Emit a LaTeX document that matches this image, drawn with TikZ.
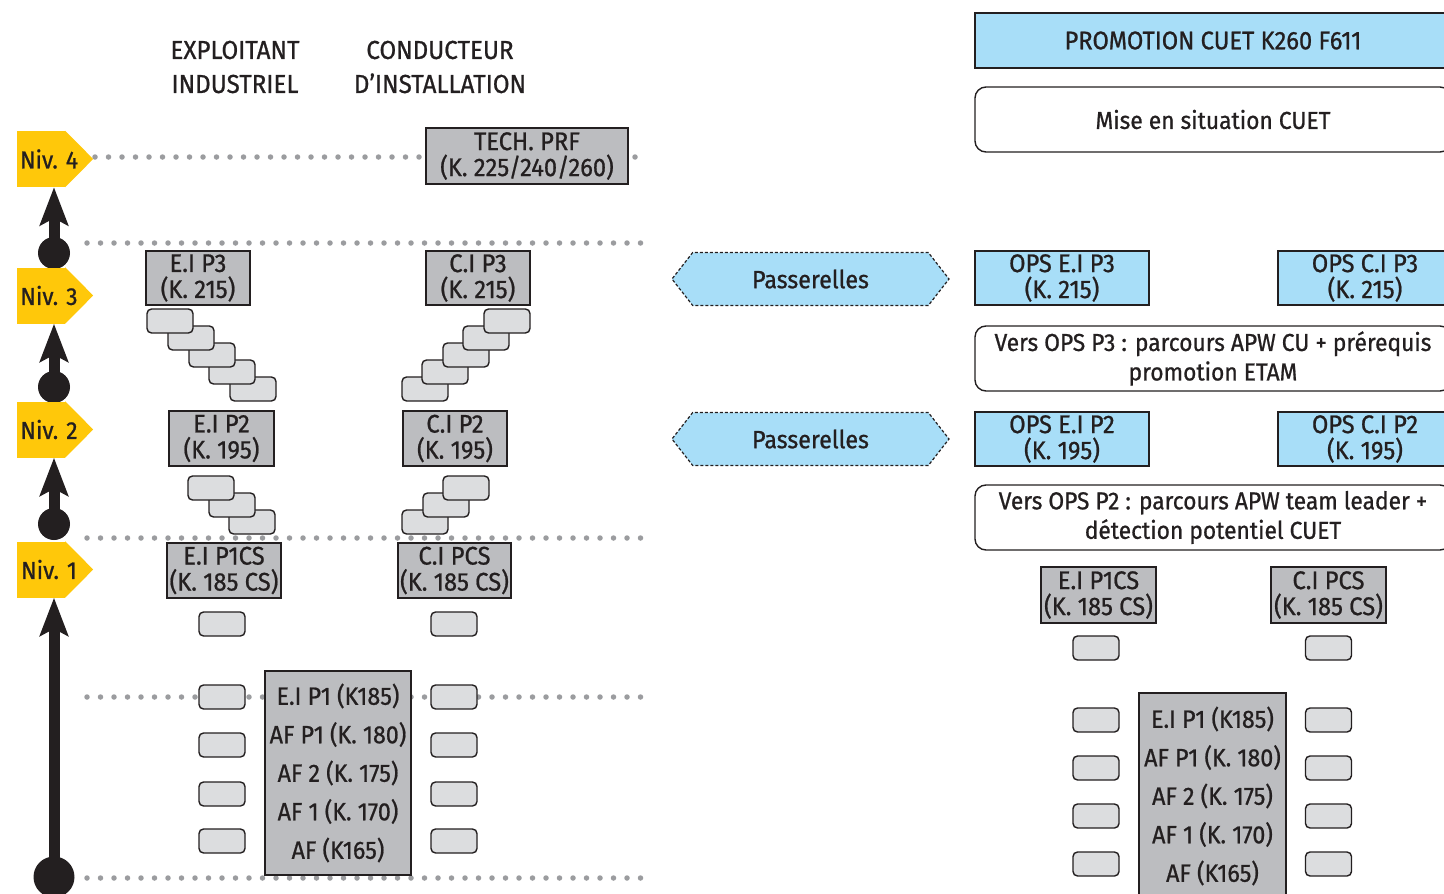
\documentclass[tikz,border=0pt]{standalone}
\usepackage{fontspec}
\setmainfont{Fira Sans}[FakeStretch=0.93,FakeBold=0.8]
\usetikzlibrary{arrows.meta,shapes.symbols,calc}
\definecolor{ink}{HTML}{231F20}
\definecolor{boxgray}{HTML}{BCBDC0}
\definecolor{lgray}{HTML}{DCDDDF}
\definecolor{dotgray}{HTML}{9B9C9F}
\definecolor{lblue}{HTML}{A8DEF8}
\definecolor{nivyel}{HTML}{FFC80A}
\newcommand\boxfont{\fontsize{25.5}{26}\selectfont}
\newcommand\hdrfont{\fontsize{26}{34}\selectfont}
\newcommand\nivfont{\fontsize{24.5}{28}\selectfont}
\newcommand\bigfont{\fontsize{25}{38.5}\selectfont}
\newcommand\widefont{\fontsize{24.5}{29.5}\selectfont}
\newcommand\passfont{\fontsize{25}{26}\selectfont}
\tikzset{
  gbox/.style={draw=ink, line width=1.4pt, fill=boxgray, inner sep=0pt, align=center, font=\boxfont, text=ink},
  bbox/.style={draw=ink, line width=1.4pt, fill=lblue, inner sep=0pt, align=center, font=\boxfont, text=ink},
  wbox/.style={draw=ink, line width=1.4pt, fill=white, rounded corners=11pt, inner sep=0pt, align=center, font=\widefont, text=ink},
  sbox/.style={draw=ink, line width=1.4pt, fill=lgray, rounded corners=4.5pt, minimum width=46pt, minimum height=24pt, inner sep=0pt},
  dots/.style={draw=dotgray, line width=5.5pt, line cap=round, dash pattern=on 0pt off 13.5pt},
  tag/.style={rectangle, fill=nivyel, draw=none, minimum width=48pt, minimum height=56pt, inner sep=0pt},
  tagtxt/.style={font=\nivfont, text=ink, inner sep=0pt},
  ball/.style={circle, fill=ink, draw=none, inner sep=0pt},
  arr/.style={draw=ink, line width=11pt, -{Stealth[length=38pt,width=28pt,inset=7pt]}},
  pass/.style={signal, signal to=east and west, signal pointer angle=104, fill=lblue, draw=ink, line width=1.2pt, dash pattern=on 3pt off 2pt, minimum width=277pt, minimum height=53pt, inner sep=0pt, font=\passfont, text=ink},
  hdr/.style={align=center, font=\hdrfont, text=ink, inner sep=0pt}
}
\begin{document}
\begin{tikzpicture}[x=1pt,y=-1pt]
\clip (0,0) rectangle (1444,894);
% dotted level lines
\coordinate (d4a) at (95,157);  \coordinate (d4b) at (648,157);
\coordinate (d3a) at (87,243);  \coordinate (d3b) at (648,243);
\coordinate (d2a) at (87,538);  \coordinate (d2b) at (648,538);
\coordinate (d1a) at (87,697);  \coordinate (d1b) at (648,697);
\coordinate (d0a) at (87,878);  \coordinate (d0b) at (648,878);
\foreach \a/\b in {d4a/d4b,d3a/d3b,d2a/d2b,d1a/d1b,d0a/d0b}{\draw[dots] (\a) -- (\b);}
% headers
\node[hdr] (hei) at (235,67) {EXPLOITANT\\INDUSTRIEL};
\node[hdr] (hci) at (440,67) {CONDUCTEUR\\D’INSTALLATION};
% level axis
\node[ball, minimum size=32pt] (c4) at (54,253) {};
\node[ball, minimum size=32pt] (c3) at (54,387) {};
\node[ball, minimum size=32pt] (c2) at (54,524) {};
\node[ball, minimum size=41pt] (c1) at (54,877) {};
\foreach \n/\y in {n4/159,n3/295.5,n2/429.5,n1/569.5}{
  \node[tag] (\n) at (41,\y) {};
  \fill[nivyel] (\n.north east) -- ($(\n.east)+(28,0)$) -- (\n.south east) -- cycle;
}
\node[tagtxt] (t4) at (49,159) {Niv. 4};
\node[tagtxt] (t3) at (49,295.5) {Niv. 3};
\node[tagtxt] (t2) at (49,429.5) {Niv. 2};
\node[tagtxt] (t1) at (49,569.5) {Niv. 1};
\draw[arr] (c4.center) -- (c4 |- n4.south);
\draw[arr] (c3.center) -- (c3 |- n3.south);
\draw[arr] (c2.center) -- (c2 |- n2.south);
\draw[arr] (c1.center) -- (c1 |- n1.south);
% left boxes
\node[gbox, minimum width=202pt, minimum height=56pt] (tech) at (527,156) {TECH. PRF\\(K. 225/240/260)};
\node[gbox, minimum width=104pt, minimum height=54pt] (eip3) at (198,278) {E.I P3\\(K. 215)};
\node[gbox, minimum width=104pt, minimum height=54pt] (cip3) at (478,278) {C.I P3\\(K. 215)};
% stairs P3 -> P2 (upper drawn last)
\foreach \i/\x/\y in {5/253/389,4/232/372,3/212/355,2/191/338,1/170/321}{\node[sbox] (es\i) at (\x,\y) {};}
\foreach \i/\x/\y in {5/425/389,4/445/372,3/466/355,2/486/338,1/507/321}{\node[sbox] (cs\i) at (\x,\y) {};}
\node[gbox, minimum width=105pt, minimum height=55pt] (eip2) at (221.5,438.5) {E.I P2\\(K. 195)};
\node[gbox, minimum width=104pt, minimum height=55pt] (cip2) at (455,438.5) {C.I P2\\(K. 195)};
\foreach \i/\x/\y in {3/252/522,2/232/505,1/211/488}{\node[sbox] (et\i) at (\x,\y) {};}
\foreach \i/\x/\y in {3/425/522,2/446/505,1/466/488}{\node[sbox] (ct\i) at (\x,\y) {};}
\node[gbox, minimum width=114pt, minimum height=55pt] (eip1cs) at (224,570.5) {E.I P1CS\\(K. 185 CS)};
\node[gbox, minimum width=113pt, minimum height=55pt] (cipcs) at (454.5,570.5) {C.I PCS\\(K. 185 CS)};
\node[sbox] (eu0) at (222,624) {};
\node[sbox] (cu0) at (454,624) {};
\foreach \i/\y in {1/697,2/745,3/794,4/841}{\node[sbox] (eu\i) at (222,\y) {}; \node[sbox] (cu\i) at (454,\y) {};}
\node[gbox, font=\bigfont, minimum width=146pt, minimum height=204pt] (big) at (338,773) {E.I P1 (K185)\\AF P1 (K. 180)\\AF 2 (K. 175)\\AF 1 (K. 170)\\AF (K165)};
% passerelles
\node[pass] (pa3) at (810.5,279) {Passerelles};
\node[pass] (pa2) at (810.5,439) {Passerelles};
% right side
\node[bbox, minimum width=476pt, minimum height=55pt] (promo) at (1213,40.5) {PROMOTION CUET K260 F611};
\node[wbox, minimum width=476pt, minimum height=65pt] (mise) at (1213,119.5) {Mise en situation CUET};
\node[bbox, minimum width=174pt, minimum height=54pt] (opse3) at (1062,278) {OPS E.I P3\\(K. 215)};
\node[bbox, minimum width=174pt, minimum height=54pt] (opsc3) at (1365,278) {OPS C.I P3\\(K. 215)};
\node[wbox, minimum width=476pt, minimum height=65pt] (vers3) at (1213,358.5) {Vers OPS P3 : parcours APW CU + prérequis\\promotion ETAM};
\node[bbox, minimum width=174pt, minimum height=54pt] (opse2) at (1062,439) {OPS E.I P2\\(K. 195)};
\node[bbox, minimum width=174pt, minimum height=54pt] (opsc2) at (1365,439) {OPS C.I P2\\(K. 195)};
\node[wbox, minimum width=476pt, minimum height=65pt] (vers2) at (1213,517.5) {Vers OPS P2 : parcours APW team leader +\\détection potentiel CUET};
\node[gbox, minimum width=115pt, minimum height=56pt] (reip1cs) at (1098.5,595) {E.I P1CS\\(K. 185 CS)};
\node[gbox, minimum width=115pt, minimum height=56pt] (rcipcs) at (1328.5,595) {C.I PCS\\(K. 185 CS)};
\foreach \i/\y in {0/648,1/720,2/768,3/816,4/864}{\node[sbox] (reu\i) at (1096,\y) {}; \node[sbox] (rcu\i) at (1328.5,\y) {};}
\node[gbox, font=\bigfont, minimum width=147pt, minimum height=206pt] (rbig) at (1212.5,796) {E.I P1 (K185)\\AF P1 (K. 180)\\AF 2 (K. 175)\\AF 1 (K. 170)\\AF (K165)};
\end{tikzpicture}
\end{document}
